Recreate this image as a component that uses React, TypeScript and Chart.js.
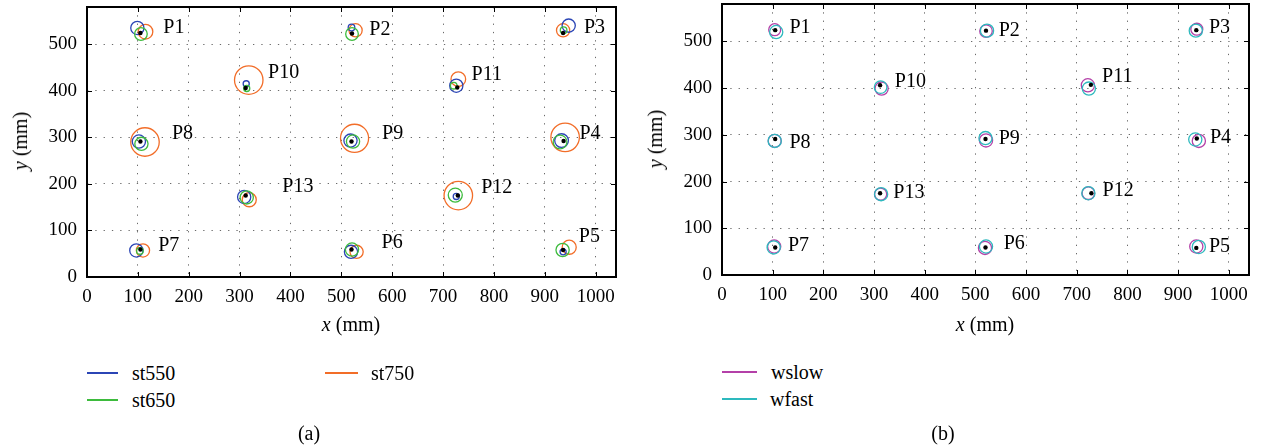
import React, { useEffect, useRef } from 'react';
import { Chart, registerables } from 'chart.js';

Chart.register(...registerables);

// ---------- data (mm) ----------
const pointNames = ['P1', 'P2', 'P3', 'P4', 'P5', 'P6', 'P7', 'P8', 'P9', 'P10', 'P11', 'P12', 'P13'];
const xTickValues = [0, 100, 200, 300, 400, 500, 600, 700, 800, 900, 1000];
const yTickValues = [0, 100, 200, 300, 400, 500];

// reference (true) positions
const refX = [105, 521, 936, 937, 936, 520, 105, 105, 520, 312, 728, 729, 312];
const refY = [524, 523, 524, 292, 58, 59, 59, 291, 291, 406, 407, 175, 175];

// (a) estimated positions, with radius of the error circle (mm)
const st550X = [99, 520, 947, 933, 936, 519, 97, 102, 518, 313, 726, 726, 309];
const st550Y = [535, 536, 540, 293, 54, 54, 57, 291, 293, 415, 411, 173, 172];
const st550R = [13, 6.5, 13, 13.5, 6, 13, 13, 13, 13, 6, 13, 6, 13];

const st650X = [106, 521, 937, 930, 935, 521, 104, 107, 523, 314, 721, 724, 314];
const st650Y = [522, 522, 530, 290, 58, 59, 56, 286, 291, 405, 411, 176, 171];
const st650R = [12.4, 12.4, 6.5, 13.5, 13, 13, 6.5, 13, 13, 6, 6.5, 13.8, 13];

const st750X = [115, 528, 936, 940, 948, 530, 110, 114, 526, 318, 730, 730, 319];
const st750Y = [527, 530, 530, 300, 64, 54, 57, 290, 298, 423, 425, 175, 166];
const st750R = [14.4, 13, 13, 28, 13.8, 13, 13, 28, 27.6, 28, 14.4, 28, 13.8];

// (b)
const wslowX = [104, 521, 937, 941, 936, 519, 103, 104, 521, 315, 722, 723, 313];
const wslowY = [525, 522, 526, 287, 61, 58, 61, 287, 288, 399, 406, 175, 173];
const wslowR = [11.8, 12.4, 11.8, 13, 13, 13, 13, 12.8, 13, 13, 13, 12.4, 12];

const wfastX = [107, 523, 935, 934, 941, 521, 102, 104, 520, 313, 724, 723, 314];
const wfastY = [520, 523, 523, 290, 60, 61, 59, 287, 293, 402, 399, 175, 173];
const wfastR = [13, 13, 13, 13, 13, 13, 13, 13, 13, 12.4, 13, 13, 13];

// label anchors (left edge, vertical centre), mm
const labelAX = [150, 555, 977, 968, 967, 579, 140, 167, 580, 356, 756, 775, 384];
const labelAY = [535, 531, 535, 308, 86, 73, 68, 308, 308, 439, 435, 191, 193];
const labelBX = [133, 546, 961, 963, 961, 556, 130, 133, 546, 341, 750, 751, 338];
const labelBY = [530, 523, 530, 294, 60, 67, 62, 284, 292, 413, 425, 181, 175];

// ---------- styles ----------
const FONT = '"Liberation Serif", "DejaVu Serif", serif';
const C_BLUE = '#2b45b5';
const C_GREEN = '#3dbb3d';
const C_ORANGE = '#f26d28';
const C_MAGENTA = '#b440a8';
const C_CYAN = '#2db9be';

const zip = (xs: number[], ys: number[], rs?: number[]) =>
  xs.map((x, i) => ({ x, y: ys[i], r: rs ? rs[i] : 0 }));

const mmRadius = (ctx: any) => {
  const s = ctx.chart.scales.x;
  const r = ctx.raw && ctx.raw.r ? ctx.raw.r : 0;
  return Math.abs(s.getPixelForValue(r) - s.getPixelForValue(0));
};

const circleSet = (label: string, xs: number[], ys: number[], rs: number[], color: string) => ({
  label,
  data: zip(xs, ys, rs),
  showLine: false,
  pointStyle: 'circle',
  pointRadius: mmRadius,
  pointHoverRadius: mmRadius,
  backgroundColor: 'rgba(0,0,0,0)',
  borderColor: color,
  pointBorderWidth: 1.3,
  borderWidth: 1.3,
});

const refSet = () => ({
  label: 'reference',
  data: zip(refX, refY),
  showLine: false,
  pointStyle: 'circle',
  pointRadius: 2.2,
  backgroundColor: '#000',
  borderColor: '#000',
  borderWidth: 0,
});

const framePlugin = {
  id: 'frameAndLabels',
  afterDraw(chart: any, _args: any, opts: any) {
    const { ctx, chartArea: a } = chart;
    const xs = chart.scales.x;
    const ys = chart.scales.y;
    ctx.save();
    ctx.strokeStyle = '#000';
    ctx.lineWidth = 1;
    ctx.beginPath();
    xTickValues.forEach((v) => {
      const px = Math.round(xs.getPixelForValue(v)) + 0.5;
      ctx.moveTo(px, a.bottom);
      ctx.lineTo(px, a.bottom - 5);
      ctx.moveTo(px, a.top);
      ctx.lineTo(px, a.top + 5);
    });
    yTickValues.forEach((v) => {
      const py = Math.round(ys.getPixelForValue(v)) + 0.5;
      ctx.moveTo(a.left, py);
      ctx.lineTo(a.left + 5, py);
      ctx.moveTo(a.right, py);
      ctx.lineTo(a.right - 5, py);
    });
    ctx.stroke();
    ctx.lineWidth = 2;
    ctx.strokeRect(a.left, a.top, a.right - a.left, a.bottom - a.top);
    ctx.fillStyle = '#000';
    ctx.font = '20px ' + FONT;
    ctx.textAlign = 'left';
    ctx.textBaseline = 'middle';
    (opts.lx as number[]).forEach((lx, i) => {
      ctx.fillText(pointNames[i], xs.getPixelForValue(lx), ys.getPixelForValue(opts.ly[i]));
    });
    ctx.restore();
  },
};

const noPadX = (s: any, h: number) => {
  s.height = h;
  s.paddingLeft = 0;
  s.paddingRight = 0;
  s.paddingTop = 0;
  s.paddingBottom = 0;
};
const noPadY = (s: any) => {
  s.width = 87;
  s.paddingLeft = 0;
  s.paddingRight = 0;
  s.paddingTop = 0;
  s.paddingBottom = 0;
};

function makeConfig(datasets: any[], lx: number[], ly: number[], xHeight: number, padRight: number) {
  const tickFont = { family: FONT, size: 19 };
  return {
    type: 'scatter',
    data: { datasets },
    options: {
      animation: false,
      responsive: false,
      events: [],
      layout: { padding: { top: 0, right: padRight, bottom: 0, left: 0 } },
      plugins: {
        legend: { display: false },
        tooltip: { enabled: false },
        frameAndLabels: { lx, ly },
      },
      scales: {
        x: {
          type: 'linear',
          min: 0,
          max: 1040,
          afterBuildTicks: (s: any) => {
            s.ticks = xTickValues.map((v) => ({ value: v }));
          },
          afterFit: (s: any) => noPadX(s, xHeight),
          ticks: {
            font: tickFont,
            color: '#000',
            padding: 9,
            maxRotation: 0,
            autoSkip: false,
            callback: (v: any) => String(v),
          },
          grid: { color: '#6a6a6a', lineWidth: 1, drawTicks: false },
          border: { display: false, dash: [1.3, 7] },
        },
        y: {
          type: 'linear',
          min: 0,
          max: 580,
          afterBuildTicks: (s: any) => {
            s.ticks = yTickValues.map((v) => ({ value: v }));
          },
          afterFit: noPadY,
          ticks: { font: tickFont, color: '#000', padding: 10, autoSkip: false, callback: (v: any) => String(v) },
          grid: { color: '#6a6a6a', lineWidth: 1, drawTicks: false },
          border: { display: false, dash: [1.3, 7] },
        },
      },
    },
    plugins: [framePlugin],
  };
}

function ChartCanvas(props: { config: () => any; width: number; height: number }) {
  const ref = useRef<HTMLCanvasElement | null>(null);
  useEffect(() => {
    let chart: Chart | null = null;
    let cancelled = false;
    const build = () => {
      if (cancelled || !ref.current) return;
      chart = new Chart(ref.current, props.config());
    };
    const fonts: any = (document as any).fonts;
    if (fonts && fonts.load) {
      Promise.all([fonts.load('19px "Liberation Serif"'), fonts.load('20px "Liberation Serif"')])
        .then(build, build);
    } else {
      build();
    }
    return () => {
      cancelled = true;
      if (chart) chart.destroy();
    };
  }, []);
  return (
    <canvas
      ref={ref}
      width={props.width}
      height={props.height}
      style={{ position: 'absolute', left: 0, top: 0, width: props.width, height: props.height }}
    />
  );
}

const abs = (extra: React.CSSProperties): React.CSSProperties => ({
  position: 'absolute',
  whiteSpace: 'nowrap',
  lineHeight: 1,
  ...extra,
});

function LegendItem(props: { x: number; y: number; color: string; text: string; lineW: number; gap: number }) {
  return (
    <div style={abs({ left: props.x, top: props.y - 12, height: 24, display: 'flex', alignItems: 'center', fontSize: 20 })}>
      <span style={{ display: 'inline-block', width: props.lineW, height: 1.5, background: props.color, marginRight: props.gap }} />
      <span>{props.text}</span>
    </div>
  );
}

export default function App() {
  const leftConfig = () =>
    makeConfig(
      [
        refSet(),
        circleSet('st650', st650X, st650Y, st650R, C_GREEN),
        circleSet('st550', st550X, st550Y, st550R, C_BLUE),
        circleSet('st750', st750X, st750Y, st750R, C_ORANGE),
      ],
      labelAX,
      labelAY,
      73,
      19
    );
  const rightConfig = () =>
    makeConfig(
      [
        refSet(),
        circleSet('wfast', wfastX, wfastY, wfastR, C_CYAN),
        circleSet('wslow', wslowX, wslowY, wslowR, C_MAGENTA),
      ],
      labelBX,
      labelBY,
      75,
      22
    );

  return (
    <div
      style={{
        position: 'absolute',
        left: 0,
        top: 0,
        width: 1271,
        height: 447,
        background: '#fff',
        fontFamily: FONT,
        color: '#000',
        overflow: 'hidden',
      }}
    >
      {/* left chart */}
      <div style={{ position: 'absolute', left: 0, top: 3, width: 635, height: 347 }}>
        <ChartCanvas config={leftConfig} width={635} height={347} />
      </div>
      {/* right chart */}
      <div style={{ position: 'absolute', left: 635, top: 0, width: 636, height: 350 }}>
        <ChartCanvas config={rightConfig} width={636} height={350} />
      </div>

      {/* axis titles */}
      <div style={abs({ left: 20, top: 141, fontSize: 20, transform: 'translate(-50%, -50%) rotate(-90deg)' })}>
        <i>y</i> (mm)
      </div>
      <div style={abs({ left: 655, top: 139, fontSize: 20, transform: 'translate(-50%, -50%) rotate(-90deg)' })}>
        <i>y</i> (mm)
      </div>
      <div style={abs({ left: 351, top: 324, fontSize: 20, transform: 'translate(-50%, -50%)' })}>
        <i>x</i> (mm)
      </div>
      <div style={abs({ left: 985, top: 324, fontSize: 20, transform: 'translate(-50%, -50%)' })}>
        <i>x</i> (mm)
      </div>

      {/* legends */}
      <LegendItem x={87} y={373} color={C_BLUE} text="st550" lineW={31} gap={14} />
      <LegendItem x={87} y={400} color={C_GREEN} text="st650" lineW={31} gap={14} />
      <LegendItem x={325} y={373} color={C_ORANGE} text="st750" lineW={33} gap={13} />
      <LegendItem x={722} y={372} color={C_MAGENTA} text="wslow" lineW={35} gap={14} />
      <LegendItem x={722} y={399} color={C_CYAN} text="wfast" lineW={35} gap={13} />

      {/* captions */}
      <div style={abs({ left: 309, top: 433, fontSize: 20, transform: 'translate(-50%, -50%)' })}>(a)</div>
      <div style={abs({ left: 943, top: 433, fontSize: 20, transform: 'translate(-50%, -50%)' })}>(b)</div>
    </div>
  );
}
